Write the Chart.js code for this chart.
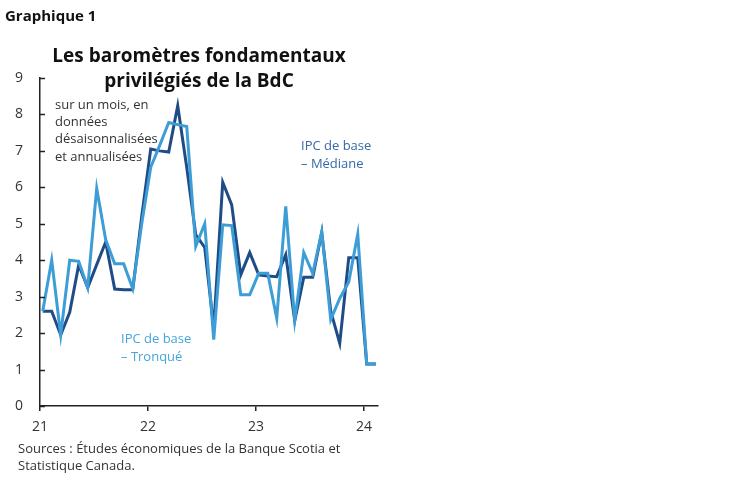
<!DOCTYPE html>
<html lang="fr">
<head>
<meta charset="utf-8">
<script src="https://cdn.jsdelivr.net/npm/chart.js@4.4.1/dist/chart.umd.min.js"></script>
<style>
  html, body { margin: 0; padding: 0; background: #fff; }
  #wrap { position: relative; width: 748px; height: 483px; font-family: "Open Sans", sans-serif; color: #222; }
  #c { position: absolute; left: 0; top: 0; }
  .t { position: absolute; white-space: nowrap; }
  #g1 { left: 5px; top: 5px; font-weight: 700; font-size: 15px; color: #111; }
  #title { left: 0; width: 398px; top: 43px; text-align: center; font-weight: 700; font-size: 19px; line-height: 25px; color: #111; }
  #note { left: 55px; top: 96px; font-size: 13px; line-height: 17.2px; color: #333; }
  #lmed { left: 301px; top: 136px; font-size: 13px; line-height: 18px; color: #3569aa; }
  #ltro { left: 121px; top: 329px; font-size: 13px; line-height: 18px; color: #45a6dc; }
  #src { left: 18px; top: 440px; font-size: 13px; line-height: 17px; color: #333; }
</style>
</head>
<body>
<div id="wrap">
  <canvas id="c" width="748" height="483"></canvas>
  <div class="t" id="g1">Graphique 1</div>
  <div class="t" id="title">Les baromètres fondamentaux<br>privilégiés de la BdC</div>
  <div class="t" id="note">sur un mois, en<br>données<br>désaisonnalisées<br>et annualisées</div>
  <div class="t" id="lmed">IPC de base<br>– Médiane</div>
  <div class="t" id="ltro">IPC de base<br>– Tronqué</div>
  <div class="t" id="src">Sources : Études économiques de la Banque Scotia et<br>Statistique Canada.</div>
</div>
<script>
// Monthly data, Jan 2021 – Feb 2024
const months = ["2021-01","2021-02","2021-03","2021-04","2021-05","2021-06","2021-07","2021-08","2021-09","2021-10","2021-11","2021-12",
  "2022-01","2022-02","2022-03","2022-04","2022-05","2022-06","2022-07","2022-08","2022-09","2022-10","2022-11","2022-12",
  "2023-01","2023-02","2023-03","2023-04","2023-05","2023-06","2023-07","2023-08","2023-09","2023-10","2023-11","2023-12",
  "2024-01","2024-02"];
const cpiMedian = [2.6,2.6,1.95,2.57,3.87,3.25,3.88,4.5,3.21,3.19,3.19,5.2,
  7.05,7.0,6.97,8.24,6.55,4.7,4.35,2.14,6.14,5.52,3.6,4.21,
  3.6,3.57,3.55,4.15,2.34,3.53,3.53,4.76,2.6,1.72,4.07,4.07,
  1.15,1.15];
const cpiTrim = [2.6,4.0,1.95,4.0,3.97,3.25,5.97,4.56,3.9,3.9,3.22,5.0,
  6.55,7.15,7.78,7.72,7.67,4.38,5.0,1.82,4.97,4.95,3.05,3.05,
  3.64,3.64,2.41,5.48,2.35,4.21,3.64,4.78,2.37,2.95,3.4,4.72,
  1.15,1.15];
const yearTicks = ["21","22","23","24"];
const yTicks = [0,1,2,3,4,5,6,7,8,9];

// month index (within-month offset so points sit inside their month)
function toX(m) {
  const [y, mo] = m.split("-").map(Number);
  return (y - 2021) * 12 + (mo - 1) + 0.3;
}
const ptsMed = months.map((m, i) => ({ x: toX(m), y: cpiMedian[i] }));
const ptsTrim = months.map((m, i) => ({ x: toX(m), y: cpiTrim[i] }));

const inwardTicks = {
  id: "inwardTicks",
  afterDatasetsDraw(chart) {
    const y = chart.scales.y, ctx = chart.ctx, left = chart.chartArea.left;
    ctx.save();
    ctx.strokeStyle = "#222";
    ctx.lineWidth = 1.5;
    y.ticks.forEach(t => {
      const py = Math.round(y.getPixelForValue(t.value)) + 0.5;
      ctx.beginPath();
      ctx.moveTo(left, py);
      ctx.lineTo(left + 5, py);
      ctx.stroke();
    });
    ctx.restore();
  }
};

new Chart(document.getElementById("c"), {
  type: "line",
  data: {
    datasets: [
      { label: "IPC de base – Tronqué", data: ptsTrim, borderColor: "#3d9dd6", borderWidth: 3, pointRadius: 0, tension: 0, fill: false },
      { label: "IPC de base – Médiane", data: ptsMed, borderColor: "#1f4c87", borderWidth: 3, pointRadius: 0, tension: 0, fill: false }
    ]
  },
  options: {
    responsive: false,
    animation: false,
    devicePixelRatio: 1,
    layout: { padding: { top: 78, right: 370, bottom: 0, left: 0 } },
    plugins: { legend: { display: false }, tooltip: { enabled: false } },
    scales: {
      x: {
        type: "linear",
        min: 0,
        max: 37.55,
        afterBuildTicks(scale) { scale.ticks = yearTicks.map((_, i) => ({ value: i * 12 })); },
        afterFit(scale) { scale.height = 77; },
        ticks: {
          callback: (v) => yearTicks[Math.round(v / 12)],
          color: "#333",
          font: { family: "Open Sans", size: 14 },
          padding: 8,
          maxRotation: 0
        },
        grid: { drawOnChartArea: false, drawTicks: true, tickLength: 5, color: "#222", lineWidth: 1.5 },
        border: { display: true, color: "#222", width: 1.5 }
      },
      y: {
        min: 0,
        max: 9,
        afterBuildTicks(scale) { scale.ticks = yTicks.map(v => ({ value: v })); },
        afterFit(scale) { scale.width = 40; },
        ticks: {
          color: "#333",
          font: { family: "Open Sans", size: 14 },
          padding: 17
        },
        grid: { drawOnChartArea: false, drawTicks: false },
        border: { display: true, color: "#222", width: 1.5 }
      }
    }
  },
  plugins: [inwardTicks]
});
</script>
</body>
</html>
